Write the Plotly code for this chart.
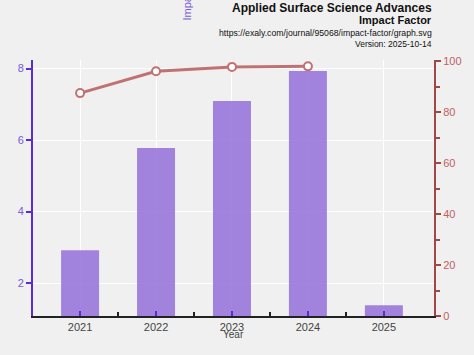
import plotly.graph_objects as go

years = ["2021", "2022", "2023", "2024", "2025"]
impact_factor = [2.92, 5.78, 7.09, 7.93, 1.38]
percentile_years = ["2021", "2022", "2023", "2024"]
percentile = [87.5, 96.1, 97.8, 98.0]

x_idx = list(range(len(years)))
line_idx = list(range(len(percentile_years)))

fig = go.Figure()
fig.add_trace(go.Bar(
    x=x_idx, y=impact_factor, width=0.5,
    marker=dict(color="rgba(147,112,219,0.85)", line=dict(width=0)),
    yaxis="y", showlegend=False,
))
fig.add_trace(go.Scatter(
    x=line_idx, y=percentile, yaxis="y2", mode="lines+markers",
    line=dict(color="#c07272", width=3),
    marker=dict(symbol="circle", size=8, color="white",
                line=dict(color="#c07272", width=2)),
    showlegend=False,
))

font = "Liberation Sans, Arial, sans-serif"
fig.update_layout(
    width=474, height=355,
    margin=dict(l=33, r=40, t=60, b=39),
    paper_bgcolor="#f0f0f0", plot_bgcolor="#f0f0f0",
    font=dict(family=font, size=11, color="#444"),
    xaxis=dict(
        range=[-0.62, 4.66], tickmode="array", tickvals=x_idx, ticktext=years,
        showgrid=True, gridcolor="white", gridwidth=1,
        showline=True, linecolor="#222", linewidth=2,
        ticks="inside", ticklen=5, tickcolor="#5b2ccf", tickwidth=2,
        minor=dict(tickmode="array", tickvals=[0.5, 1.5, 2.5, 3.5], ticks="inside",
                   ticklen=4, tickcolor="#222", tickwidth=2, showgrid=False),
        tickfont=dict(size=11, color="#444"),
        zeroline=False,
    ),
    yaxis=dict(
        range=[1.08, 8.24], tickvals=[2, 4, 6, 8],
        showgrid=True, gridcolor="white", gridwidth=1,
        showline=True, linecolor="#5b2ccf", linewidth=2,
        ticks="outside", ticklen=5, tickcolor="#5b2ccf", tickwidth=2,
        tickfont=dict(size=11, color="#7a5ad8"),
        zeroline=False,
    ),
    yaxis2=dict(
        range=[0, 100.5], overlaying="y", side="right",
        tickvals=[0, 20, 40, 60, 80, 100],
        showgrid=False, showline=True, linecolor="#a04848", linewidth=2,
        ticks="outside", ticklen=5, tickcolor="#a04848", tickwidth=2,
        minor=dict(dtick=10, ticks="outside", ticklen=4, tickcolor="#a04848", tickwidth=2),
        tickfont=dict(size=11, color="#c06060"),
        zeroline=False,
    ),
    bargap=0.5,
)

def px_to_paper(ypx):
    return (316 - ypx) / 256

fig.add_annotation(xref="paper", yref="paper", x=1.0, y=px_to_paper(8), xanchor="right", yanchor="middle",
                   text="<b>Applied Surface Science Advances</b>", showarrow=False,
                   font=dict(size=12, color="#111", family=font))
fig.add_annotation(xref="paper", yref="paper", x=1.0, y=px_to_paper(20), xanchor="right", yanchor="middle",
                   text="<b>Impact Factor</b>", showarrow=False,
                   font=dict(size=11, color="#111", family=font))
fig.add_annotation(xref="paper", yref="paper", x=1.0, y=px_to_paper(33), xanchor="right", yanchor="middle",
                   text="https://exaly.com/journal/95068/impact-factor/graph.svg", showarrow=False,
                   font=dict(size=8.7, color="#111", family=font))
fig.add_annotation(xref="paper", yref="paper", x=1.0, y=px_to_paper(44), xanchor="right", yanchor="middle",
                   text="Version: 2025-10-14", showarrow=False,
                   font=dict(size=8.5, color="#111", family=font))
fig.add_annotation(xref="paper", yref="paper", x=(187 - 33) / 401, y=1.287, xanchor="center", yanchor="middle",
                   text="Impact Factor", textangle=-90, showarrow=False,
                   font=dict(size=11, color="#7a5ad8", family=font))
fig.add_annotation(xref="paper", yref="paper", x=(233 - 33) / 401, y=px_to_paper(334), xanchor="center", yanchor="middle",
                   text="Year", showarrow=False,
                   font=dict(size=10, color="#444", family=font))

fig.write_html("out.html", config={"displayModeBar": False},
               post_script="document.body.style.margin='0';")
